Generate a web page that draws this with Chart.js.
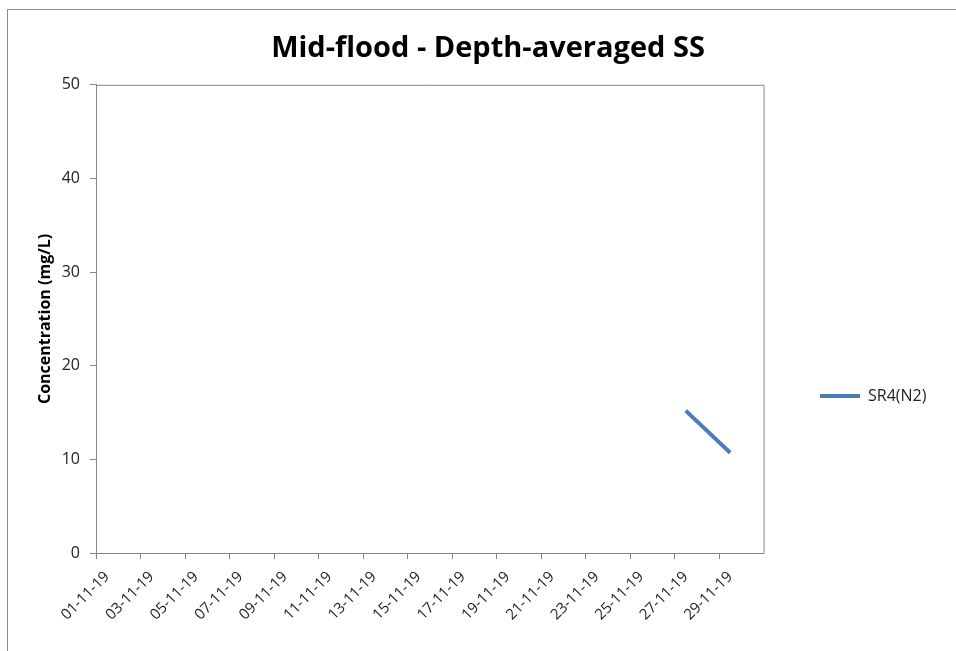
<!DOCTYPE html>
<html><head><meta charset="utf-8">
<script src="https://cdn.jsdelivr.net/npm/chart.js@4/dist/chart.umd.min.js"></script>
<style>
html,body{margin:0;padding:0;background:#fff;}
#wrap{position:relative;width:956px;height:651px;overflow:hidden;}
#frame{position:absolute;left:7px;top:9px;width:1000px;height:700px;border:1px solid #8c8c8c;box-sizing:border-box;}
canvas{position:absolute;left:0;top:0;}
</style>
</head><body>
<div id="wrap"><div id="frame"></div><canvas id="c" width="956" height="651"></canvas></div>
<script>
const chartTitle = 'Mid-flood - Depth-averaged SS';
const yAxisTitle = 'Concentration (mg/L)';
const dates = ['01-11-19','02-11-19','03-11-19','04-11-19','05-11-19','06-11-19','07-11-19','08-11-19','09-11-19','10-11-19',
               '11-11-19','12-11-19','13-11-19','14-11-19','15-11-19','16-11-19','17-11-19','18-11-19','19-11-19','20-11-19',
               '21-11-19','22-11-19','23-11-19','24-11-19','25-11-19','26-11-19','27-11-19','28-11-19','29-11-19','30-11-19'];
const seriesName = 'SR4(N2)';
const sr4Values = [null,null,null,null,null,null,null,null,null,null,
                   null,null,null,null,null,null,null,null,null,null,
                   null,null,null,null,null,null,15.2,null,10.7,null];
const yMin = 0, yMax = 50, yStep = 10;

const AXIS = '#868686';
const LINE = '#4A7EBB';

const frameBox = {
  id: 'frameBox',
  afterLayout(chart) {
    const lg = chart.legend;
    if (lg) {
      const dx = 810 - lg.left;
      const h = lg.bottom - lg.top;
      const dy = (396 - h / 2) - lg.top;
      lg.left += dx; lg.right += dx; lg.top += dy; lg.bottom += dy;
    }
    const t = chart.titleBlock;
    if (t) {
      const dx = 488 - (t.left + t.right) / 2;
      t.left += dx; t.right += dx;
    }
  },
  afterDatasetsDraw(chart) {
    const {ctx, chartArea: a} = chart;
    ctx.save();
    ctx.strokeStyle = AXIS;
    ctx.lineWidth = 1;
    ctx.beginPath();
    ctx.moveTo(a.left + 0.5, a.top + 0.5);
    ctx.lineTo(a.right + 0.5, a.top + 0.5);
    ctx.lineTo(a.right + 0.5, a.bottom + 0.5);
    ctx.stroke();
    ctx.restore();
  }
};

Chart.defaults.font.family = '"Open Sans", Lato, sans-serif';

new Chart(document.getElementById('c'), {
  type: 'line',
  data: {
    labels: dates,
    datasets: [{
      label: seriesName,
      data: sr4Values,
      borderColor: LINE,
      backgroundColor: LINE,
      borderWidth: 4,
      pointRadius: 0,
      pointHoverRadius: 0,
      spanGaps: true,
      tension: 0
    }]
  },
  options: {
    responsive: false,
    animation: false,
    devicePixelRatio: 1,
    layout: { padding: { left: 0, right: 66, top: 0, bottom: 0 } },
    plugins: {
      title: {
        display: true,
        text: chartTitle,
        color: '#000',
        font: { size: 29, weight: 'bold' },
        padding: { top: 31, bottom: 19 }
      },
      legend: {
        display: true,
        position: 'right',
        labels: {
          usePointStyle: true,
          pointStyle: 'line',
          pointStyleWidth: 40,
          boxWidth: 40,
          color: '#222',
          font: { size: 16 },
          padding: 10
        }
      },
      tooltip: { enabled: false }
    },
    scales: {
      x: {
        type: 'category',
        offset: true,
        grid: {
          display: true,
          drawOnChartArea: false,
          drawTicks: true,
          offset: true,
          tickLength: 6,
          tickColor: (ctx) => (ctx.index % 2 === 0 ? AXIS : 'rgba(0,0,0,0)'),
          color: AXIS
        },
        border: { display: true, color: AXIS, width: 1 },
        ticks: {
          autoSkip: false,
          minRotation: 45,
          maxRotation: 45,
          padding: 9,
          color: '#222',
          font: { size: 15 },
          callback: function (val, idx) { return idx % 2 === 0 ? this.getLabelForValue(val) : ''; }
        },
        afterFit: (s) => { s.height = 98; }
      },
      y: {
        min: yMin,
        max: yMax,
        grid: {
          display: true,
          drawOnChartArea: false,
          drawTicks: true,
          tickLength: 6,
          tickColor: AXIS,
          color: AXIS
        },
        border: { display: true, color: AXIS, width: 1 },
        ticks: {
          stepSize: yStep,
          padding: 10,
          color: '#222',
          font: { size: 16 }
        },
        title: {
          display: true,
          text: yAxisTitle,
          color: '#000',
          font: { size: 16, weight: 'bold' },
          padding: { top: 36, bottom: 0 }
        },
        afterFit: (s) => { s.width = 96; }
      }
    }
  },
  plugins: [frameBox]
});
</script>
</body></html>
